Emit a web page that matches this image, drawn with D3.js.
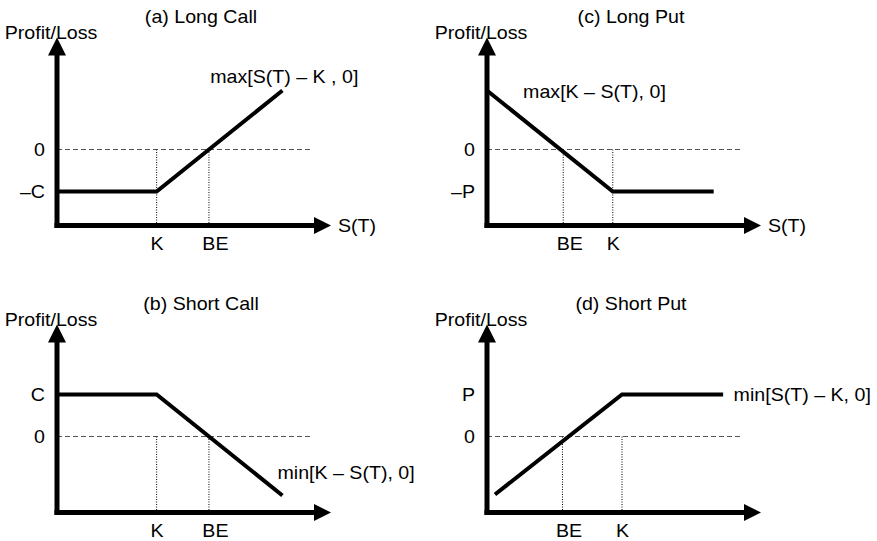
<html>
<meta charset="utf-8">
<style>
body { margin: 0; background: #fff; }
svg { display: block; }
text { font-family: 'Liberation Sans', Arial, Helvetica, sans-serif; font-size: 18px; fill: #000; }
</style>
<body>
<script src="https://cdn.jsdelivr.net/npm/d3@7"></script>
<script>

/* values: price axis 0..110, profit axis -38..56 */
var panelTitles   = ['(a) Long Call', '(c) Long Put', '(b) Short Call', '(d) Short Put'];
var payoffLabels  = ['max[S(T) \u2013 K , 0]', 'max[K \u2013 S(T), 0]', 'min[K \u2013 S(T), 0]', 'min[S(T) \u2013 K, 0]'];
var premiumLabels = ['\u2013C', '\u2013P', 'C', 'P'];
var premiumValues = [-21, -21, 21, 21];
var strikeValues  = [40, 50.5, 40, 54.2];
var breakEven     = [61, 30.6, 61, 30.3];
var showPrice     = [true, true, false, false];

var payoffLongCall  = [[0, -21], [40, -21], [90.5, 29.5]];
var payoffLongPut   = [[0, 29.5], [50.5, -21], [91, -21]];
var payoffShortCall = [[0, 21], [40, 21], [90.5, -29.5]];
var payoffShortPut  = [[3.2, -29], [54.2, 21], [94.8, 21]];
var payoffs = [payoffLongCall, payoffLongPut, payoffShortCall, payoffShortPut];

/*******************
layout
********************/
var width = 877, height = 541,
    col_x = [57, 487],      // y axis position of each column
    row_y = [225.5, 512.5], // x axis position of each row
    sx = 1.09;              // the original text is a bit wide

// where the formula label sits, in data units
var labelAt = [[61.5, 33.5], [14.5, 26], [88.5, -21.2], [99, 17.7]];

var svg = d3.select('body').append('svg')
    .attr('width', width)
    .attr('height', height);

function stretch(g, x, y, txt, anchor) {
    g.append('text')
        .attr('transform', 'translate(' + x + ',' + y + ') scale(' + sx + ',1)')
        .attr('text-anchor', anchor)
        .text(txt);
}

function panel(i) {
    var ox = col_x[i % 2], oy = row_y[Math.floor(i / 2)];
    var x = d3.scaleLinear().domain([0, 110]).range([ox, ox + 274]);
    var y = d3.scaleLinear().domain([-38, 56]).range([oy, oy - 188]);
    var g = svg.append('g');

    // titles
    stretch(g, ox + 144, y(56) - 14.5, panelTitles[i], 'middle');
    stretch(g, ox - 6, y(56) + 1, 'Profit/Loss', 'middle');

    // zero line and the K / BE markers
    g.append('line')
        .attr('x1', x(0)).attr('x2', x(101.6))
        .attr('y1', y(0)).attr('y2', y(0))
        .attr('stroke', '#555').attr('stroke-width', 1)
        .attr('stroke-dasharray', '5,3');

    g.selectAll('.drop')
        .data([strikeValues[i], breakEven[i]])
        .enter().append('line')
        .attr('x1', function(d) { return x(d); })
        .attr('x2', function(d) { return x(d); })
        .attr('y1', y(0)).attr('y2', y(-38))
        .attr('stroke', '#000').attr('stroke-width', 1)
        .attr('stroke-dasharray', '1,1.5');

    // payoff
    g.append('path')
        .datum(payoffs[i])
        .attr('d', d3.line().x(function(d) { return x(d[0]); }).y(function(d) { return y(d[1]); }))
        .attr('fill', 'none')
        .attr('stroke', '#000')
        .attr('stroke-width', 4)
        .attr('stroke-linejoin', 'miter');

    stretch(g, x(labelAt[i][0]), y(labelAt[i][1]), payoffLabels[i], 'start');

    // tick labels through d3 axes, no tick marks
    var yAxis = g.append('g')
        .attr('transform', 'translate(' + x(0) + ',0)')
        .call(d3.axisLeft(y).tickValues([0, premiumValues[i]])
            .tickFormat(function(d, j) { return j ? premiumLabels[i] : '0'; })
            .tickSize(0).tickPadding(11));
    var xAxis = g.append('g')
        .attr('transform', 'translate(0,' + y(-38) + ')')
        .call(d3.axisBottom(x).tickValues([strikeValues[i], breakEven[i]])
            .tickFormat(function(d, j) { return j ? 'BE' : 'K'; })
            .tickSize(0).tickPadding(11.5));
    [yAxis, xAxis].forEach(function(a) {
        a.select('.domain').remove();
        a.attr('font-family', null).attr('font-size', null);
        a.selectAll('text').attr('fill', '#000')
            .attr('transform', 'scale(' + sx + ',1)');
    });
    xAxis.selectAll('text').attr('dx', function(d, j) { return j ? 5.5 : 0; });

    // thick axes with arrow heads
    g.append('line')
        .attr('x1', x(0)).attr('x2', x(0))
        .attr('y1', y(-38) + 2.5).attr('y2', y(56) + 16)
        .attr('stroke', '#000').attr('stroke-width', 5);
    g.append('line')
        .attr('x1', x(0) - 2.5).attr('x2', x(110) - 15)
        .attr('y1', y(-38)).attr('y2', y(-38))
        .attr('stroke', '#000').attr('stroke-width', 5);
    g.append('path')
        .attr('d', 'M' + x(0) + ',' + y(56) + 'l9,18h-18z')
        .attr('fill', '#000');
    g.append('path')
        .attr('d', 'M' + x(110) + ',' + y(-38) + 'l-17,-8.5v17z')
        .attr('fill', '#000');

    if (showPrice[i]) {
        g.append('text')
            .attr('transform', 'translate(' + (x(110) + 7) + ',' + y(-38) + ') scale(' + sx + ',1)')
            .attr('dy', '0.35em')
            .text('S(T)');
    }
}

for (var i = 0; i < 4; i++) panel(i);

</script>
</html>
